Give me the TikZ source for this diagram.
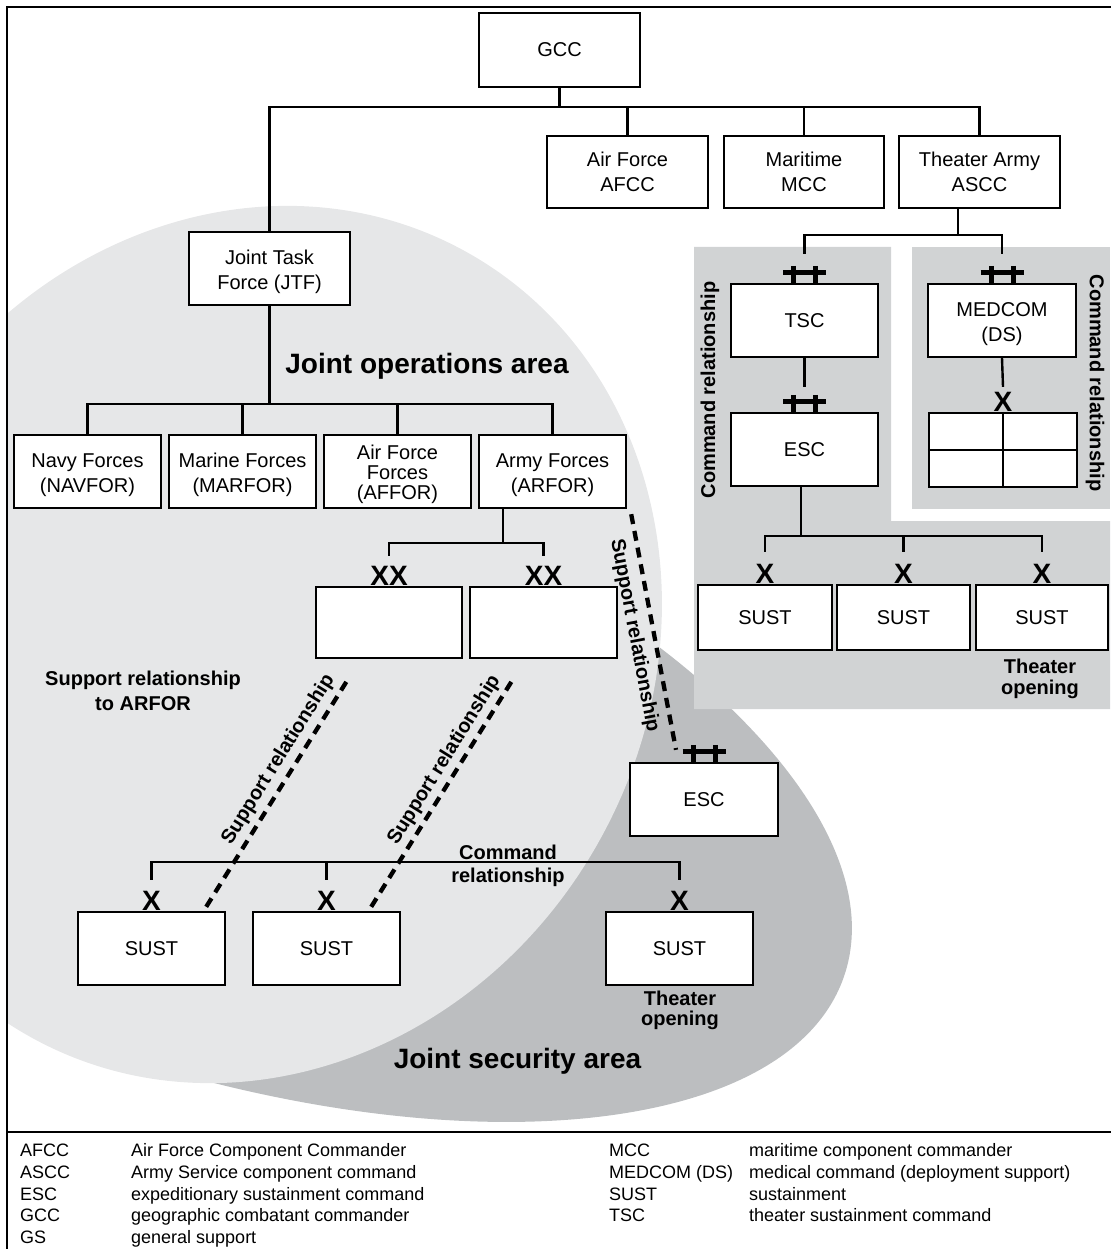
\documentclass[tikz,border=0pt]{standalone}
\usepackage{fontspec}
\setmainfont{Liberation Sans}
\usetikzlibrary{calc}

\definecolor{joagray}{RGB}{230,231,232}
\definecolor{jsagray}{RGB}{188,190,192}
\definecolor{panelgray}{RGB}{209,211,212}

\tikzset{
  box/.style={draw, line width=2.4pt, fill=white, inner sep=0pt, align=center,
              font=\fontsize{20}{25}\selectfont},
  conn/.style={line width=2.4pt},
  rankmark/.style={font=\bfseries\fontsize{28}{28}\selectfont, inner sep=0pt, anchor=base},
  plusmark/.style={line width=5pt},
  lbl/.style={font=\bfseries\fontsize{20}{25}\selectfont, align=center, inner sep=0pt},
  bigarea/.style={font=\bfseries\fontsize{28}{30}\selectfont, inner sep=0pt, anchor=base},
  supp/.style={line width=4.3pt, dash pattern=on 10pt off 7pt},
  legend/.style={font=\fontsize{18}{18}\selectfont, anchor=base west, inner sep=0pt},
  frame/.style={line width=2.4pt}
}

% raises the first line so that text with parentheses sits centred in its box
\newcommand{\topfix}{\rule{0pt}{21pt}}

% double plus (brigade-level group) symbol above a box
\newcommand{\plusplusmark}[1]{%
  \draw[plusmark] ($(#1.north)+(-21.5,-10)$) -- ($(#1.north)+(21.5,-10)$);
  \draw[plusmark] ($(#1.north)+(-11,-17)$) -- ($(#1.north)+(-11,0)$);
  \draw[plusmark] ($(#1.north)+(11,-17)$) -- ($(#1.north)+(11,0)$);}

\begin{document}
\begin{tikzpicture}[x=1pt, y=-1pt]
\useasboundingbox (0,0) rectangle (1110,1249);

% ---- background areas ----
\begin{scope}
  \clip (7,7) rectangle (1110,1132);
  % joint security area
  \fill[jsagray, shift={(188,750)}, rotate=-19.06]
    (0,0) ellipse [x radius=694pt, y radius=312pt];
  % joint operations area
  \fill[joagray, shift={(248.5,644.5)}, rotate=61.2]
    (0,0) ellipse [x radius=449pt, y radius=402pt];
\end{scope}
% theater army panels
\fill[panelgray] (694,247) -- (891,247) -- (891,521) -- (1110,521)
  -- (1110,709) -- (694,709) -- cycle;
\fill[panelgray] (912,247) rectangle (1110,509);

% ---- boxes ----
\node[box, minimum width=161pt, minimum height=74pt] (gcc) at (559.5,50) {GCC};
\node[box, minimum width=161pt, minimum height=72pt] (afcc) at (627.5,172) {Air Force\\AFCC};
\node[box, minimum width=160pt, minimum height=72pt] (mcc) at (804,172) {Maritime\\MCC};
\node[box, minimum width=161pt, minimum height=72pt] (ascc) at (979.5,172) {Theater Army\\ASCC};
\node[box, minimum width=161pt, minimum height=73pt] (jtf) at (269.5,268.5) {\topfix Joint Task\\Force (JTF)};

\node[box, minimum width=147pt, minimum height=73pt] (navfor) at (87.5,471.5) {\topfix Navy Forces\\(NAVFOR)};
\node[box, minimum width=147pt, minimum height=73pt] (marfor) at (242.5,471.5) {\topfix Marine Forces\\(MARFOR)};
\node[box, minimum width=147pt, minimum height=73pt, font=\fontsize{20}{20}\selectfont] (affor) at (397.5,471.5) {\topfix Air Force\\Forces\\(AFFOR)};
\node[box, minimum width=147pt, minimum height=73pt] (arfor) at (552.5,471.5) {\topfix Army Forces\\(ARFOR)};

\node[box, minimum width=146pt, minimum height=71pt] (div1) at (389,622.5) {};
\node[box, minimum width=147pt, minimum height=71pt] (div2) at (543.5,622.5) {};

\node[box, minimum width=147pt, minimum height=73pt] (tsc) at (804.5,320.5) {TSC};
\node[box, minimum width=147pt, minimum height=73pt] (esca) at (804.5,449.5) {ESC};
\node[box, minimum width=148pt, minimum height=73pt] (medcom) at (1002,320.5) {\topfix MEDCOM\\(DS)};
\node[box, minimum width=148pt, minimum height=74pt] (grid) at (1003,450) {};
\draw[conn] (grid.north) -- (grid.south);
\draw[conn] (grid.west) -- (grid.east);

\node[box, minimum width=134pt, minimum height=65pt] (sustr1) at (765,617.5) {SUST};
\node[box, minimum width=133pt, minimum height=65pt] (sustr2) at (903.5,617.5) {SUST};
\node[box, minimum width=132pt, minimum height=65pt] (sustr3) at (1042,617.5) {SUST};

\node[box, minimum width=148pt, minimum height=73pt] (escb) at (704,799.5) {ESC};
\node[box, minimum width=147pt, minimum height=73pt] (sustl1) at (151.5,948.5) {SUST};
\node[box, minimum width=147pt, minimum height=73pt] (sustl2) at (326.5,948.5) {SUST};
\node[box, minimum width=147pt, minimum height=73pt] (sustl3) at (679.5,948.5) {SUST};

% ---- command lines ----
\coordinate (busa) at (0,107);
\coordinate (busb) at (0,235);
\coordinate (busc) at (0,536);
\coordinate (busd) at (0,404);
\coordinate (buse) at (0,543);
\coordinate (busf) at (0,862);

\draw[conn] (gcc.south) -- (gcc.south |- busa);
\draw[conn] (jtf.north) |- (ascc.north |- busa) -- (ascc.north);
\draw[conn] (afcc.north) -- (afcc.north |- busa);
\draw[conn] (mcc.north) -- (mcc.north |- busa);

\coordinate (asccout) at ($(ascc.south)+(-21.5,0)$);
\draw[conn] (asccout) -- (asccout |- busb);
\draw[conn] ($(tsc.north)+(0,-29)$) |- (busb -| medcom.north) -- ($(medcom.north)+(0,-29)$);
\draw[conn] (tsc.south) -- ($(esca.north)+(0,-25)$);
\draw[conn] (medcom.south) -- ($(grid.north)+(0,-25)$);

\coordinate (escaout) at ($(esca.south)+(-3.5,0)$);
\draw[conn] (escaout) -- (escaout |- busc);
\draw[conn] ($(sustr1.north)+(0,-32)$) |- (busc -| sustr3.north) -- ($(sustr3.north)+(0,-32)$);
\draw[conn] ($(sustr2.north)+(0,-32)$) -- (sustr2.north |- busc);

\draw[conn] (jtf.south) -- (jtf.south |- busd);
\draw[conn] (navfor.north) |- (busd -| arfor.north) -- (arfor.north);
\draw[conn] (marfor.north) -- (marfor.north |- busd);
\draw[conn] (affor.north) -- (affor.north |- busd);

\coordinate (arforout) at ($(arfor.south)+(-49.5,0)$);
\draw[conn] (arforout) -- (arforout |- buse);
\draw[conn] ($(div1.north)+(0,-30)$) |- (buse -| div2.north) -- ($(div2.north)+(0,-30)$);

\draw[conn] ($(sustl1.north)+(0,-31)$) |- (busf -| sustl3.north) -- ($(sustl3.north)+(0,-31)$);
\draw[conn] ($(sustl2.north)+(0,-31)$) -- (sustl2.north |- busf);

% ---- echelon symbols ----
\plusplusmark{tsc}
\plusplusmark{esca}
\plusplusmark{medcom}
\plusplusmark{escb}
\node[rankmark] (xgrid) at (grid.north) {X};
\node[rankmark] (xr1) at (sustr1.north) {X};
\node[rankmark] (xr2) at (sustr2.north) {X};
\node[rankmark] (xr3) at (sustr3.north) {X};
\node[rankmark] (xl1) at (sustl1.north) {X};
\node[rankmark] (xl2) at (sustl2.north) {X};
\node[rankmark] (xl3) at (sustl3.north) {X};
\node[rankmark] (xxa) at (div1.north) {XX};
\node[rankmark] (xxb) at (div2.north) {XX};

% ---- support relationships ----
\coordinate (sra) at ($(arfor.south east)+(4,5)$);
\coordinate (srb) at ($(escb.north)+(-28,-12)$);
\draw[supp] (sra) -- (srb)
  node[lbl, sloped, midway, below=8pt] (srlab) {Support relationship};

\coordinate (sla) at ($(sustl1.north east)+(-20,-4)$);
\coordinate (slb) at (350,676);
\draw[supp] (sla) -- (slb)
  node[lbl, sloped, pos=0.6, above=5pt] (sllab) {Support relationship};

\coordinate (sma) at ($(sustl2.north east)+(-30,-4)$);
\coordinate (smb) at (515,676);
\draw[supp] (sma) -- (smb)
  node[lbl, sloped, pos=0.6, above=4pt] (smlab) {Support relationship};

% ---- area and relationship labels ----
\node[bigarea] (joa) at (427,373) {Joint operations area};
\node[bigarea] (jsa) at (517.5,1068) {Joint security area};
\node[lbl, anchor=north] (toarfor) at (143,671) {Support relationship\\to ARFOR};
\node[lbl, anchor=north, font=\bfseries\fontsize{20}{23}\selectfont] (cmdlow) at (508,845) {Command\\relationship};
\node[lbl, anchor=north, font=\bfseries\fontsize{20}{21}\selectfont] (toright) at (1040,659) {Theater\\opening};
\node[lbl, anchor=north, font=\bfseries\fontsize{20}{20}\selectfont] (tolow) at (680,991) {Theater\\opening};
\node[lbl, rotate=90] (cmdleft) at (710,390) {Command relationship};
\node[lbl, rotate=-90] (cmdright) at (1095,383) {Command relationship};

% ---- frame ----
\draw[frame] (7,1260) -- (7,7) -- (1120,7);
\draw[frame] (7,1132) -- (1120,1132);

% ---- legend ----
\foreach \ab/\tx [count=\i] in {AFCC/Air Force Component Commander,
    ASCC/Army Service component command,
    ESC/expeditionary sustainment command,
    GCC/geographic combatant commander,
    GS/general support} {
  \node[legend] (lga\i) at (20,{1156.5+(\i-1)*21.75}) {\ab};
  \node[legend] (lgb\i) at (131,{1156.5+(\i-1)*21.75}) {\tx};
}
\foreach \ab/\tx [count=\i] in {MCC/maritime component commander,
    MEDCOM (DS)/medical command (deployment support),
    SUST/sustainment,
    TSC/theater sustainment command} {
  \node[legend] (lgc\i) at (609,{1156.5+(\i-1)*21.75}) {\ab};
  \node[legend] (lgd\i) at (749,{1156.5+(\i-1)*21.75}) {\tx};
}
\end{tikzpicture}
\end{document}
